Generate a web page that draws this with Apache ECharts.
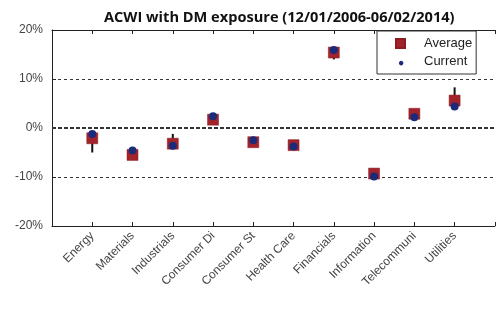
<!DOCTYPE html>
<html><head><meta charset="utf-8">
<script src="https://cdn.jsdelivr.net/npm/echarts@6/dist/echarts.min.js"></script>
<style>html,body{margin:0;padding:0;background:#fff}#c{width:497px;height:320px}</style>
</head><body><div id="c"></div>
<script>
const titleText = 'ACWI with DM exposure (12/01/2006-06/02/2014)';
const categories = ['Energy','Materials','Industrials','Consumer Di','Consumer St','Health Care','Financials','Information','Telecommuni','Utilities'];
const average = [-2.1, -5.5, -3.2, 1.7, -2.9, -3.5, 15.4, -9.3, 2.9, 5.6];
const current = [-1.2, -4.6, -3.6, 2.4, -2.5, -3.8, 15.9, -9.9, 2.2, 4.4];
const errLow  = [-5.0, -5.5, -3.2, 1.7, -2.9, -4.2, 14.0, -9.3, 2.9, 5.6];
const errHigh = [-2.1, -5.5, -1.2, 1.7, -2.9, -3.5, 15.4, -9.3, 2.9, 8.3];
const yTicks = [-20, -10, 0, 10, 20];

const chart = echarts.init(document.getElementById('c'), null, {renderer:'canvas'});
const avgData = average.map((v,i)=>[i+1, v]);
const curData = current.map((v,i)=>[i+1, v]);
const errData = categories.map((c,i)=>[i+1, errLow[i], errHigh[i]]);
const axisFont = {fontFamily:'Liberation Sans', fontSize:12, color:'#444'};
chart.setOption({
  animation:false,
  title:{text:titleText, left:99, top:5, textStyle:{fontFamily:'Open Sans', fontWeight:'bold', fontSize:14.6, color:'#111'}},
  grid:{left:52, top:30, right:-6, bottom:94, containLabel:false},
  legend:{
    orient:'vertical', left:377, top:31, padding:[6,4,6,18],
    backgroundColor:'#fff', borderColor:'#333', borderWidth:1, borderRadius:0,
    itemGap:5, itemWidth:9, itemHeight:9,
    textStyle:{fontFamily:'Liberation Sans', fontSize:13, color:'#222', padding:[0,0,0,14]},
    data:[
      {name:'Average', icon:'rect'},
      {name:'Current', icon:'path://M0,0 M10,10 M7.5,5 A2.5,2.5 0 1 1 7.49,4.99 Z'}
    ]
  },
  xAxis:[{
    type:'value', min:0, max:11, interval:1, position:'bottom',
    axisLine:{show:true, onZero:false, lineStyle:{color:'#222', width:1}},
    axisTick:{show:true, inside:true, length:4, lineStyle:{color:'#222'}},
    splitLine:{show:false},
    axisLabel:{...axisFont, rotate:45, margin:8, formatter:v=> (v>=1 && v<=categories.length) ? categories[v-1] : ''}
  },{
    type:'value', min:0, max:11, interval:1, position:'top',
    axisLine:{show:true, onZero:false, lineStyle:{color:'#222', width:1}},
    axisTick:{show:true, inside:true, length:4, lineStyle:{color:'#222'}},
    splitLine:{show:false}, axisLabel:{show:false}
  }],
  yAxis:{
    type:'value', min:yTicks[0], max:yTicks[yTicks.length-1], interval:10,
    axisLine:{show:true, lineStyle:{color:'#222', width:1}},
    axisTick:{show:true, inside:true, length:4, lineStyle:{color:'#222'}},
    splitLine:{show:true, lineStyle:{type:[3,3], color:'#333', width:1}},
    axisLabel:{...axisFont, fontSize:12, margin:9, formatter:'{value}%'}
  },
  series:[
    {type:'custom', name:'err', silent:true, data:errData, z:1,
      renderItem:(params, api)=>{
        const p1 = api.coord([api.value(0), api.value(1)]);
        const p2 = api.coord([api.value(0), api.value(2)]);
        return {type:'line', shape:{x1:p1[0], y1:p1[1], x2:p2[0], y2:p2[1]}, style:{stroke:'#111', lineWidth:2}};
      },
      markLine:{silent:true, symbol:'none', label:{show:false},
        lineStyle:{type:[4,2], color:'#333', width:2}, data:[{yAxis:0}]}
    },
    {type:'scatter', name:'Average', data:avgData, symbol:'rect', symbolSize:11, z:3,
      itemStyle:{color:'#a3232a', borderColor:'#8a1c22', borderWidth:0.5, opacity:1}},
    {type:'scatter', name:'Current', data:curData, symbol:'circle', symbolSize:8, z:4,
      itemStyle:{color:'#1c2a7a', opacity:1}}
  ]
});
</script></body></html>
